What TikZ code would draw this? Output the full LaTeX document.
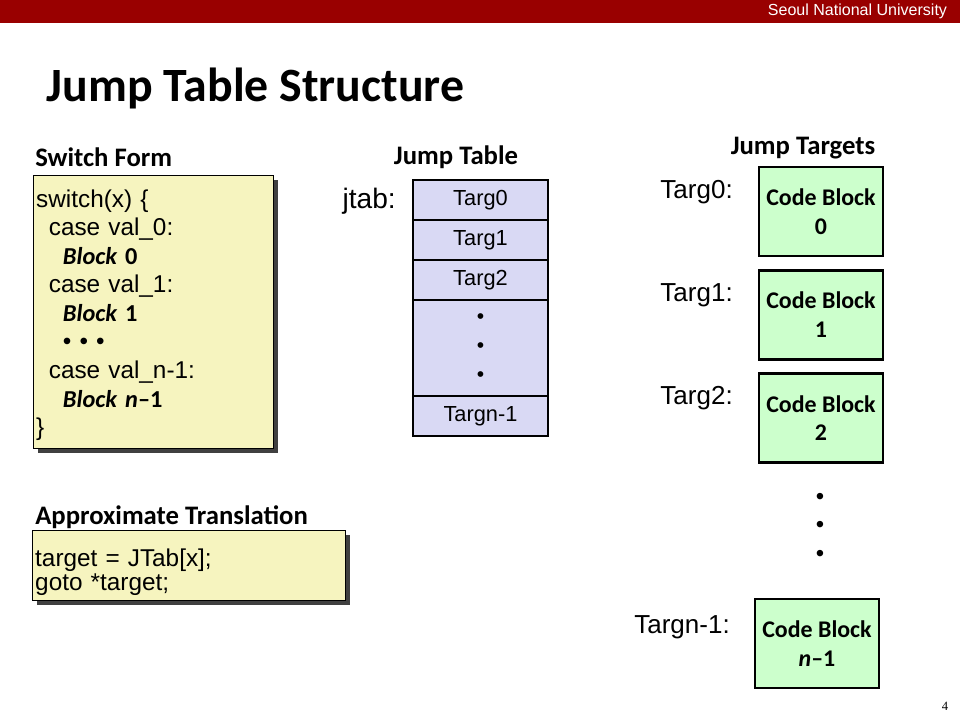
\documentclass[tikz,border=0pt]{standalone}
\usepackage{fontspec}
\setmainfont{Liberation Sans}
\newfontfamily\calibri{Carlito}
\newfontfamily\timesnum{Liberation Serif}
\usetikzlibrary{positioning,shadows}
\definecolor{snured}{HTML}{990000}
\definecolor{srcyellow}{HTML}{F6F4BF}
\definecolor{tablue}{HTML}{D9D9F4}
\definecolor{blkgreen}{HTML}{CCFFCC}
\tikzset{
  heading/.style={font=\calibri\bfseries\fontsize{19}{21}\selectfont},
  srcbox/.style={draw=black, line width=0.6pt, fill=srcyellow, anchor=north west, align=left, inner xsep=2pt,
    drop shadow={shadow xshift=3.5pt, shadow yshift=-3.5pt, fill=black!75, opacity=1}},
  cell/.style={draw=black, line width=1.5pt, fill=tablue, minimum width=3.375cm, minimum height=1cm,
    outer sep=0pt, font=\fontsize{15.5}{18}\selectfont},
  codeblk/.style={draw=black, line width=1.9pt, fill=blkgreen, minimum width=3.1cm, minimum height=2.225cm,
    align=center, font=\calibri\bfseries\fontsize{17}{20.5}\selectfont},
  tlabel/.style={anchor=east, inner xsep=0pt, font=\fontsize{18.5}{21}\selectfont}
}
\newcommand{\blk}[1]{{\calibri\bfseries\itshape Block} {\calibri\bfseries #1}}
\begin{document}
\begin{tikzpicture}[x=0.025cm,y=-0.025cm]
  \fill [white] (0,0) rectangle (960,720);
  \useasboundingbox (0,0) rectangle (960,720);
  \fill [snured] (0,0) rectangle (960,23);
  \node [anchor=east, text=white, font=\fontsize{11.4}{13}\selectfont] (uni) at (952,11.5) {Seoul National University};
  \node [anchor=west, font=\calibri\bfseries\fontsize{34}{38}\selectfont] (title) at (42,88) {Jump Table Structure};

  \node [heading, anchor=west, inner xsep=0pt] (swhead) at (35,157) {Switch Form};
  \node [srcbox, minimum width=6cm, minimum height=6.825cm, text width=6cm-4pt,
    font=\fontsize{17.3}{20.3}\selectfont] (swbox) at (33,175) {\rule{0pt}{17pt}switch(x) \{\\
    \hspace*{9pt}case val\_0:\\
    \hspace*{19pt}\blk{0}\\
    \hspace*{9pt}case val\_1:\\
    \hspace*{19pt}\blk{1}\\
    \hspace*{19pt}• • •\\
    \hspace*{9pt}case val\_n-1:\\
    \hspace*{19pt}{\calibri\bfseries\itshape Block n}{\calibri\bfseries –1}\\
    \}};

  \node [heading, anchor=west, inner xsep=0pt] (trhead) at (35,517) {Approximate Translation};
  \node [srcbox, minimum width=7.825cm, minimum height=1.725cm, text width=7.825cm-4pt,
    font=\fontsize{17.3}{17.3}\selectfont] (trbox) at (32,530) {\rule{0pt}{22pt}target = JTab[x];\\goto *target;};

  \node [heading] (jthead) at (456,157) {Jump Table};
  \node [tlabel, font=\fontsize{20}{22}\selectfont] (jtab) at (396,201) {jtab:};
  \node [cell] (t0) at (480.5,200) {Targ0};
  \node [cell, below=0pt of t0] (t1) {Targ1};
  \node [cell, below=0pt of t1] (t2) {Targ2};
  \node [cell, below=0pt of t2, minimum height=2.4cm, align=center, font=\fontsize{15}{20.6}\selectfont] (tdots) {•\\•\\•};
  \node [cell, below=0pt of tdots] (tn) {Targn-1};

  \node [heading] (tghead) at (803,148) {Jump Targets};
  \node [codeblk] (cb0) at (821,211.5) {Code Block\\0};
  \node [codeblk, below=0.29cm of cb0] (cb1) {Code Block\\1};
  \node [codeblk, below=0.29cm of cb1] (cb2) {Code Block\\2};
  \node [codeblk] (cbn) at (817,643.5) {Code Block\\\textit{n}–1};
  \node [tlabel] (l0) at (733,192) {Targ0:};
  \node [tlabel] (l1) at (733,295) {Targ1:};
  \node [tlabel] (l2) at (733,398) {Targ2:};
  \node [tlabel] (ln) at (730,627) {Targn-1:};
  \node [align=center, font=\fontsize{17}{20.3}\selectfont] (cbdots) at (820,527) {•\\•\\•};

  \node [font=\timesnum\fontsize{9}{10}\selectfont] (pnum) at (945,706) {4};
\end{tikzpicture}
\end{document}
